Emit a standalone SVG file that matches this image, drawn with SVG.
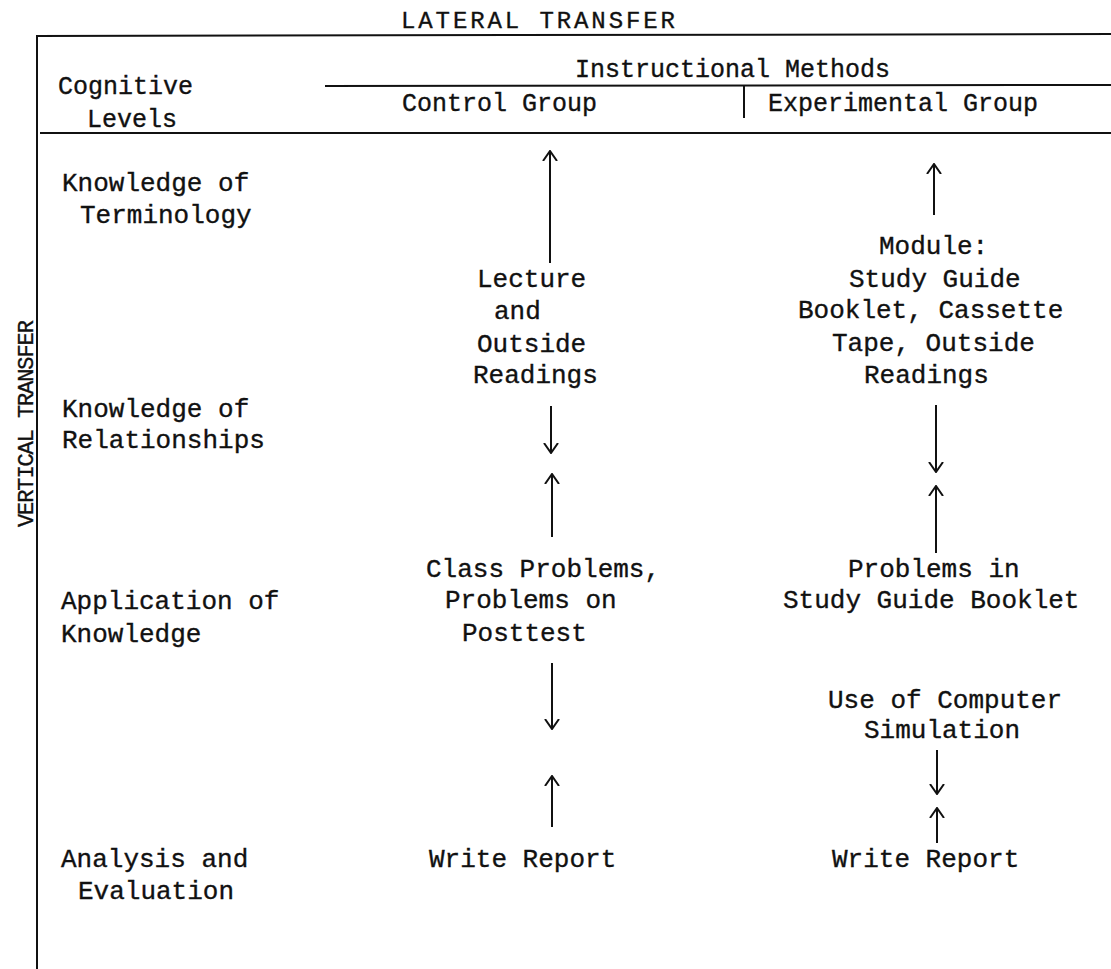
<svg xmlns="http://www.w3.org/2000/svg" width="1111" height="969" viewBox="0 0 1111 969">
<defs>
<style>
text{font-family:"Liberation Mono","DejaVu Sans Mono",monospace;fill:#111;stroke:#111;stroke-width:0.35px;font-size:26px}
.h{font-size:25px}
.t{font-size:24px;letter-spacing:2.9px}
.v{font-size:22px;letter-spacing:-1.1px}
.rule{stroke:#111;stroke-width:2;fill:none}
.arr{stroke:#111;stroke-width:2;fill:none;marker-end:url(#ah)}
</style>
<marker id="ah" viewBox="0 -8 11 16" refX="10" refY="0" markerWidth="11" markerHeight="16" markerUnits="userSpaceOnUse" orient="auto">
<path d="M0,-7 L10,0 L0,7" fill="none" stroke="#111" stroke-width="2"/>
</marker>
</defs>
<rect width="1111" height="969" fill="#fff"/>
<g id="frame">
<line class="rule" x1="36" y1="36" x2="1111" y2="34"/>
<line class="rule" x1="37" y1="35" x2="37" y2="969"/>
<line class="rule" x1="325" y1="86" x2="1111" y2="85"/>
<line class="rule" x1="744" y1="86" x2="744" y2="118"/>
<line class="rule" x1="40" y1="133" x2="1111" y2="133"/>
</g>
<g id="titles">
<text class="t" x="401" y="28">LATERAL TRANSFER</text>
<text class="v" transform="translate(33,527) rotate(-90)">VERTICAL TRANSFER</text>
</g>
<g id="header">
<text class="h" x="58" y="94">Cognitive</text>
<text class="h" x="87" y="127">Levels</text>
<text class="h" x="575" y="77">Instructional Methods</text>
<text class="h" x="402" y="111">Control Group</text>
<text class="h" x="768" y="111">Experimental Group</text>
</g>
<g id="level-terminology">
<text x="62" y="191">Knowledge of</text>
<text x="80" y="223">Terminology</text>
</g>
<g id="level-relationships">
<text x="62" y="417">Knowledge of</text>
<text x="62" y="448">Relationships</text>
</g>
<g id="level-application">
<text x="61" y="609">Application of</text>
<text x="61" y="642">Knowledge</text>
</g>
<g id="level-analysis">
<text x="61" y="867">Analysis and</text>
<text x="78" y="899">Evaluation</text>
</g>
<g id="control-lecture">
<text x="477" y="287">Lecture</text>
<text x="494" y="319">and</text>
<text x="477" y="352">Outside</text>
<text x="473" y="383">Readings</text>
</g>
<g id="control-problems">
<text x="426" y="577">Class Problems,</text>
<text x="445" y="608">Problems on</text>
<text x="462" y="641">Posttest</text>
</g>
<g id="control-report">
<text x="429" y="867">Write Report</text>
</g>
<g id="exp-module">
<text x="879" y="254">Module:</text>
<text x="849" y="287">Study Guide</text>
<text x="798" y="318">Booklet, Cassette</text>
<text x="832" y="351">Tape, Outside</text>
<text x="864" y="383">Readings</text>
</g>
<g id="exp-problems">
<text x="848" y="577">Problems in</text>
<text x="783" y="608">Study Guide Booklet</text>
</g>
<g id="exp-simulation">
<text x="828" y="708">Use of Computer</text>
<text x="864" y="738">Simulation</text>
</g>
<g id="exp-report">
<text x="832" y="867">Write Report</text>
</g>
<g id="connectors">
<line class="arr" x1="550" y1="263" x2="550" y2="151"/>
<line class="arr" x1="551" y1="406" x2="551" y2="453"/>
<line class="arr" x1="552" y1="537" x2="552" y2="474"/>
<line class="arr" x1="552" y1="663" x2="552" y2="729"/>
<line class="arr" x1="552" y1="827" x2="552" y2="776"/>
<line class="arr" x1="934" y1="215" x2="934" y2="164"/>
<line class="arr" x1="936" y1="405" x2="936" y2="472"/>
<line class="arr" x1="936" y1="553" x2="936" y2="486"/>
<line class="arr" x1="937" y1="750" x2="937" y2="794"/>
<line class="arr" x1="937" y1="843" x2="937" y2="808"/>
</g>
</svg>
